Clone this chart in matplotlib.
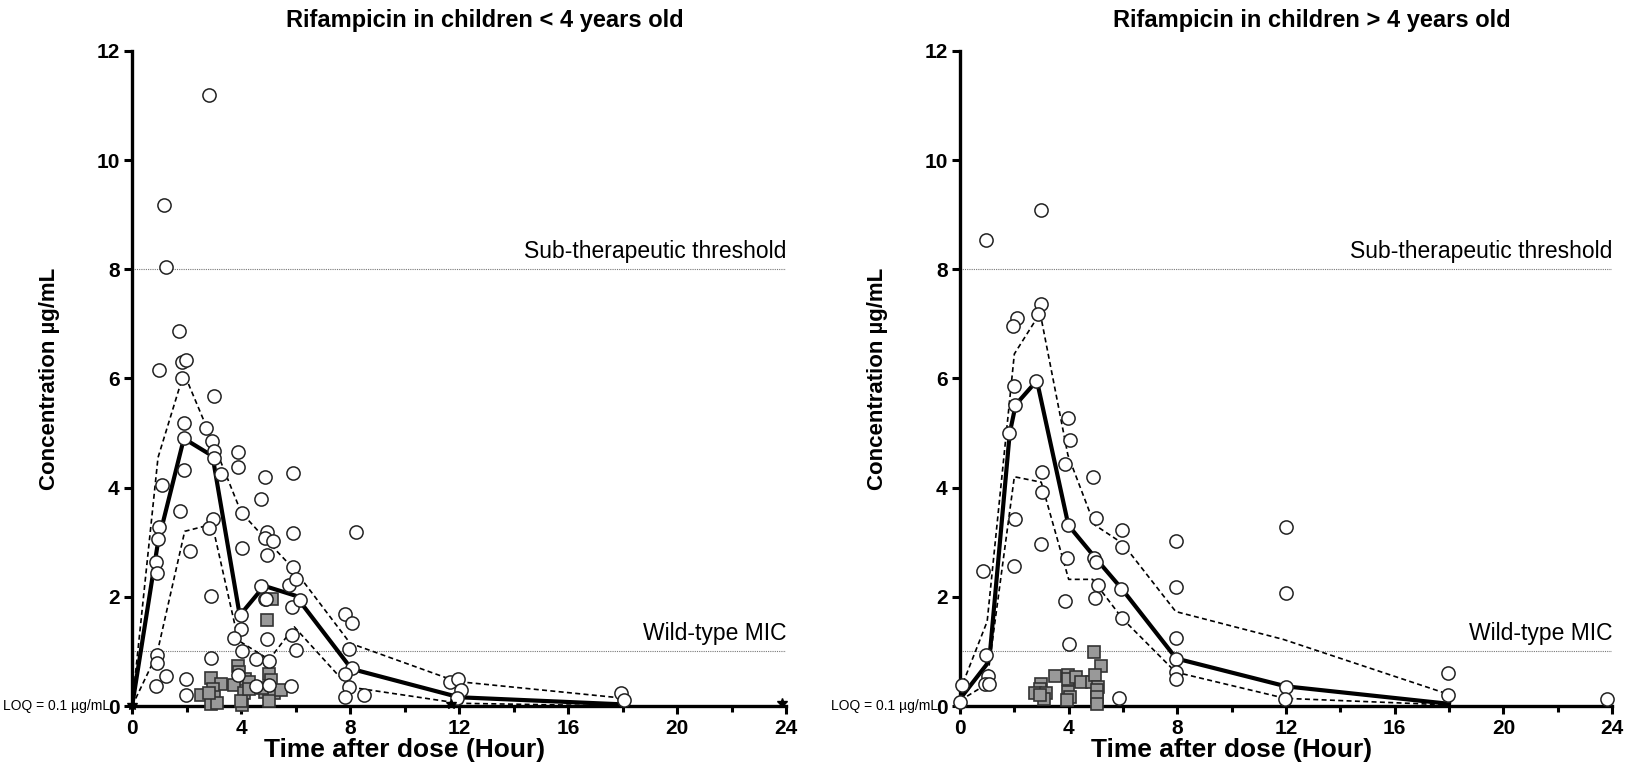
import matplotlib.pyplot as plt
import numpy as np
from matplotlib.ticker import MultipleLocator

plt.close('all')
plt.rcParams['font.family'] = ['Liberation Sans', 'DejaVu Sans']

# ---- children < 4 years (left panel) ----
young_t = [1.71, 1.83, 1.99, 0.97, 1.83, 3.00, 1.92, 1.90, 2.72, 2.94, 3.00, 3.00, 3.27, 1.92,
           1.09, 3.90, 3.90, 4.88, 5.92, 4.74, 1.75, 4.04, 2.97, 2.82, 0.97, 0.95, 4.96, 4.88,
           5.17, 5.92, 8.22, 2.14, 4.02, 4.94, 5.92, 0.89, 0.93, 2.82, 1.18, 1.24, 2.88, 4.74,
           5.74, 6.01, 4.87, 5.86, 6.17, 3.98, 3.98, 3.74, 4.94, 5.86, 6.01, 4.04, 4.53, 5.03,
           2.88, 0.91, 0.93, 1.26, 0.87, 1.96, 1.96, 3.90, 4.53, 5.03, 5.82, 7.81, 8.07, 7.97,
           8.06, 7.80, 7.95, 7.81, 8.50, 11.66, 11.97, 12.06, 11.94, 17.95, 18.04, 4.90]
young_c = [6.87, 6.30, 6.33, 6.16, 6.00, 5.68, 5.19, 4.91, 5.10, 4.85, 4.68, 4.54, 4.25, 4.33,
           4.04, 4.65, 4.37, 4.19, 4.26, 3.79, 3.58, 3.54, 3.43, 3.27, 3.28, 3.06, 3.19, 3.07,
           3.02, 3.17, 3.18, 2.84, 2.90, 2.77, 2.55, 2.64, 2.44, 11.20, 9.18, 8.04, 2.01, 2.20,
           2.21, 2.32, 1.96, 1.82, 1.95, 1.66, 1.41, 1.25, 1.22, 1.30, 1.03, 1.01, 0.87, 0.83,
           0.88, 0.93, 0.79, 0.55, 0.37, 0.50, 0.20, 0.56, 0.37, 0.39, 0.37, 1.69, 1.52, 1.04,
           0.69, 0.58, 0.35, 0.17, 0.20, 0.44, 0.49, 0.29, 0.14, 0.23, 0.11, 1.96]
young_sq_t = [2.53, 2.88, 3.27, 2.97, 3.00, 2.88, 3.10, 2.82, 3.90, 3.92, 4.16, 4.28, 3.74, 4.10,
              4.04, 3.98, 4.30, 5.03, 5.08, 5.15, 4.96, 4.88, 5.20, 5.03, 5.46, 4.76]
young_sq_c = [0.21, 0.52, 0.41, 0.32, 0.16, 0.04, 0.06, 0.23, 0.73, 0.62, 0.50, 0.44, 0.38, 0.23,
              0.02, 0.10, 0.32, 0.58, 0.47, 1.96, 1.57, 0.26, 0.23, 0.10, 0.30, 0.33]
young_blq_t = [0.0, 11.7, 23.85]
young_blq_c = [0.02, 0.04, 0.05]
young_med_t = [0, 0.95, 1.9, 2.95, 3.95, 4.85, 6.0, 8.05, 12.0, 18.0]
young_med_c = [0, 3.0, 4.9, 4.58, 1.66, 2.2, 2.02, 0.68, 0.16, 0.03]
young_hi_t = [0, 0.95, 1.9, 2.95, 4.0, 5.0, 5.95, 8.0, 11.9, 17.9]
young_hi_c = [0, 4.55, 6.1, 4.85, 3.55, 3.0, 2.5, 1.15, 0.45, 0.15]
young_lo_t = [0, 0.91, 1.93, 2.94, 3.9, 5.03, 5.95, 7.95, 12.0, 18.0]
young_lo_c = [0, 0.95, 3.2, 3.33, 1.2, 0.85, 1.45, 0.35, 0.05, 0.0]

# ---- children > 4 years (right panel) ----
old_t = [0.95, 2.99, 2.97, 2.87, 2.10, 1.95, 2.81, 1.99, 2.04, 1.81, 3.99, 4.03, 3.88, 4.91,
         3.02, 3.00, 2.01, 3.99, 5.00, 5.96, 5.96, 2.97, 3.93, 4.95, 5.00, 1.99, 0.83, 5.07,
         5.94, 3.87, 4.97, 5.96, 4.00, 0.97, 1.02, 0.93, 1.07, 0.09, 0.00, 5.87, 7.96, 7.96,
         7.96, 7.96, 7.96, 7.96, 12.0, 12.0, 12.0, 11.97, 17.97, 17.95, 23.8]
old_c = [8.54, 9.09, 7.36, 7.19, 7.10, 6.96, 5.95, 5.86, 5.52, 5.00, 5.27, 4.87, 4.43, 4.19,
         4.29, 3.92, 3.42, 3.31, 3.44, 3.23, 2.92, 2.96, 2.72, 2.72, 2.64, 2.57, 2.47, 2.21,
         2.15, 1.92, 1.97, 1.61, 1.13, 0.94, 0.55, 0.40, 0.40, 0.38, 0.08, 0.15, 3.02, 2.18,
         1.25, 0.87, 0.62, 0.50, 3.28, 2.07, 0.35, 0.12, 0.60, 0.21, 0.12]
old_sq_t = [4.93, 5.20, 3.48, 3.99, 3.99, 4.27, 4.47, 4.87, 4.96, 5.09, 2.99, 2.93, 2.75, 3.17,
            3.10, 3.97, 4.05, 3.93, 5.04, 5.05, 5.04, 2.95]
old_sq_c = [0.99, 0.73, 0.55, 0.56, 0.50, 0.53, 0.44, 0.44, 0.56, 0.35, 0.40, 0.32, 0.23, 0.24,
            0.12, 0.26, 0.17, 0.11, 0.29, 0.17, 0.03, 0.20]
old_med_t = [0, 0.98, 1.1, 1.83, 2.05, 2.83, 3.99, 4.97, 5.95, 7.96, 12.0, 18.0]
old_med_c = [0.13, 0.76, 0.96, 5.0, 5.52, 5.96, 3.31, 2.72, 2.15, 0.87, 0.36, 0.04]
old_hi_t = [0, 1.0, 2.0, 2.95, 3.97, 4.95, 5.98, 7.94, 11.9, 17.95]
old_hi_c = [0.28, 1.55, 6.45, 7.2, 4.6, 3.32, 2.98, 1.73, 1.22, 0.22]
old_lo_t = [0, 0.98, 2.0, 2.99, 4.0, 4.88, 5.98, 7.94, 11.97, 18.0]
old_lo_c = [0.1, 0.4, 4.2, 4.1, 2.32, 2.32, 1.6, 0.62, 0.14, 0.02]

titles = ["Rifampicin in children < 4 years old", "Rifampicin in children > 4 years old"]
thresholds = [8, 1]
threshold_labels = ["Sub-therapeutic threshold", "Wild-type MIC"]

fig = plt.figure(figsize=(16.31, 7.63), dpi=100)
ax1 = fig.add_axes([0.081, 0.0747, 0.401, 0.8585])
ax2 = fig.add_axes([0.5886, 0.0747, 0.3998, 0.8585])

panels = [
    (ax1, young_t, young_c, young_sq_t, young_sq_c, young_med_t, young_med_c,
     young_hi_t, young_hi_c, young_lo_t, young_lo_c, titles[0]),
    (ax2, old_t, old_c, old_sq_t, old_sq_c, old_med_t, old_med_c,
     old_hi_t, old_hi_c, old_lo_t, old_lo_c, titles[1]),
]

for ax, t, c, st, sc, mt, mc, ht, hc, lt, lc, title in panels:
    for y, lab in zip(thresholds, threshold_labels):
        ax.axhline(y, color='#777777', lw=0.8, ls=(0, (1, 1)), zorder=1)
        ax.text(24, y + 0.12, lab, ha='right', va='bottom', fontsize=16.5)
    ax.plot(ht, hc, color='black', lw=1.2, ls=(0, (3, 2)), zorder=2)
    ax.plot(lt, lc, color='black', lw=1.2, ls=(0, (3, 2)), zorder=2)
    ax.plot(mt, mc, color='black', lw=3, zorder=3)
    ax.plot(st, sc, ls='none', marker='s', ms=9, mfc='#999999', mec='#333333', mew=1.2,
            zorder=4, clip_on=False)
    ax.plot(t, c, ls='none', marker='o', ms=9.5, mfc='white', mec='#222222', mew=1.1,
            zorder=5, clip_on=False)
    ax.set_xlim(0, 24)
    ax.set_ylim(0, 12)
    ax.xaxis.set_major_locator(MultipleLocator(4))
    ax.xaxis.set_minor_locator(MultipleLocator(2))
    ax.yaxis.set_major_locator(MultipleLocator(2))
    for s in ['top', 'right']:
        ax.spines[s].set_visible(False)
    for s in ['left', 'bottom']:
        ax.spines[s].set_linewidth(2.4)
    ax.tick_params(which='major', length=6, width=2.2, labelsize=15, pad=3)
    ax.tick_params(which='minor', length=4, width=2.2)
    for lab in ax.get_xticklabels() + ax.get_yticklabels():
        lab.set_fontweight('bold')
    ax.set_xlabel("Time after dose (Hour)", fontsize=19, fontweight='bold', x=0.417, labelpad=0)
    ax.set_ylabel("Concentration µg/mL", fontsize=16, fontweight='bold', labelpad=26)
    ax.set_title(title, fontsize=17, fontweight='bold', x=0.54, pad=17)
    ax.annotate("LOQ = 0.1 µg/mL", xy=(0, 0), xycoords='axes fraction', xytext=(-22, 0),
                textcoords='offset pixels', ha='right', va='center', fontsize=10)

ax1.plot(young_blq_t, young_blq_c, ls='none', marker='*', ms=7, color='black', zorder=6,
         clip_on=False)

plt.savefig("out.png", dpi=100)
